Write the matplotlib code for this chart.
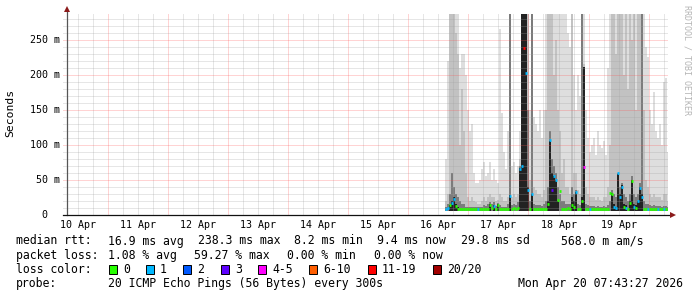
import numpy as np
import matplotlib
matplotlib.use("Agg")
import matplotlib.pyplot as plt
from matplotlib.patches import Rectangle

# ---------------- data ----------------
# time axis: days after 10 Apr 2026 00:00
view_start = 0.32184          # Fri Apr 10 07:43:27
view_end = 10.32184           # Mon Apr 20 07:43:27
sample_start = 6.611          # first consolidated sample (16 Apr ~14:40)
sample_step = 47.9 / 1440.0   # consolidated step (days)

# smoke band tops (ms) – outer (light) to inner (core)
smoke_light = [80, 220, 290, 290, 290, 290, 290, 210,
               230, 230, 200, 150, 120, 130, 60, 45,
               45, 50, 65, 75, 55, 60, 75, 50,
               65, 50, 45, 265, 145, 90, 65, 120,
               290, 70, 75, 60, 70, 120, 290, 290,
               290, 290, 150, 290, 140, 130, 120, 150,
               110, 150, 290, 290, 290, 290, 290, 290,
               290, 290, 290, 290, 290, 260, 240, 290,
               200, 150, 200, 170, 290, 290, 150, 110,
               90, 100, 110, 85, 120, 100, 95, 105,
               85, 210, 290, 290, 290, 290, 290, 290,
               290, 290, 290, 290, 290, 290, 290, 290,
               290, 290, 290, 290, 240, 225, 150, 130,
               175, 120, 110, 130, 100, 190, 195, 90]
smoke_mid = [20, 30, 290, 290, 290, 260, 230, 100,
             180, 120, 60, 25, 20, 25, 20, 18,
             15, 15, 20, 25, 20, 25, 30, 25,
             25, 20, 22, 30, 25, 20, 20, 25,
             290, 25, 30, 25, 30, 80, 290, 290,
             290, 290, 50, 290, 40, 35, 30, 30,
             25, 35, 150, 290, 290, 290, 200, 250,
             150, 120, 60, 80, 40, 40, 30, 290,
             60, 60, 35, 30, 290, 215, 40, 30,
             25, 25, 25, 22, 25, 22, 20, 25,
             25, 40, 100, 290, 290, 230, 290, 290,
             290, 200, 290, 180, 290, 250, 290, 150,
             290, 290, 290, 150, 50, 40, 30, 25,
             30, 25, 25, 25, 22, 30, 30, 20]
smoke_dark = [12, 15, 30, 60, 40, 30, 25, 20,
              15, 15, 12, 12, 12, 12, 12, 11,
              11, 11, 12, 14, 13, 15, 18, 15,
              18, 13, 17, 14, 12, 12, 12, 15,
              290, 14, 15, 14, 18, 70, 290, 290,
              290, 150, 20, 290, 15, 14, 14, 14,
              13, 15, 20, 40, 120, 80, 70, 60,
              40, 30, 20, 20, 15, 15, 15, 40,
              30, 35, 15, 14, 290, 211, 15, 14,
              13, 13, 13, 12, 13, 12, 12, 13,
              12, 14, 20, 35, 30, 25, 60, 40,
              45, 30, 25, 20, 30, 55, 30, 25,
              30, 45, 290, 20, 15, 15, 14, 13,
              14, 13, 13, 13, 12, 13, 13, 12]
smoke_core = [0, 0, 14, 20, 25, 15, 12, 0,
              0, 0, 0, 0, 0, 0, 0, 0,
              0, 0, 0, 0, 0, 0, 15, 0,
              14, 0, 15, 0, 0, 0, 0, 0,
              28, 0, 0, 0, 0, 67, 290, 290,
              290, 40, 0, 30, 0, 0, 0, 0,
              0, 0, 0, 20, 105, 60, 55, 50,
              20, 0, 0, 0, 0, 0, 0, 25,
              20, 33, 0, 0, 25, 211, 0, 0,
              0, 0, 0, 0, 0, 0, 0, 0,
              0, 0, 0, 31, 15, 12, 58, 30,
              43, 15, 14, 0, 20, 50, 15, 14,
              20, 40, 30, 0, 0, 0, 0, 0,
              0, 0, 0, 0, 0, 0, 0, 0]
median_ms = [9, 10, 14, 17, 23, 13, 9, 9,
             8, 8, 9, 8, 8, 9, 8, 8,
             8, 8, 8, 9, 9, 9, 14, 10,
             13, 9, 14, 9, 8, 8, 9, 9,
             27, 9, 10, 9, 10, 65, 70, 238,
             203, 35, 8, 30, 8, 9, 8, 9,
             8, 9, 9, 15, 107, 36, 55, 50,
             21, 34, 9, 9, 9, 10, 9, 14,
             12, 33, 9, 9, 20, 69, 9, 8,
             8, 8, 8, 8, 9, 8, 8, 9,
             9, 9, 31, 30, 12, 10, 60, 25,
             40, 12, 10, 9, 17, 49, 12, 10,
             20, 38, 26, 9, 9, 9, 9, 8,
             9, 9, 8, 9, 8, 9, 9, 8]
loss_class = [1, 1, 0, 1, 1, 0, 0, 0,
              0, 0, 0, 0, 0, 0, 0, 0,
              1, 0, 0, 0, 0, 0, 0, 0,
              1, 0, 0, 0, 0, 0, 0, 0,
              1, 0, 0, 0, 0, 1, 1, 6,
              1, 1, 0, 1, 0, 0, 0, 0,
              0, 0, 0, 0, 1, 3, 1, 1,
              0, 0, 0, 0, 0, 0, 0, 0,
              0, 1, 0, 0, 0, 4, 0, 0,
              1, 0, 0, 0, 0, 0, 0, 0,
              0, 0, 0, 0, 1, 1, 1, 1,
              1, 0, 1, 0, 0, 0, 1, 0,
              1, 1, 1, 0, 0, 1, 0, 0,
              0, 0, 1, 0, 0, 1, 0, 0]
smoke_floor = 6.0

loss_labels = ["0", "1", "2", "3", "4-5", "6-10", "11-19", "20/20"]
loss_colors = ["#26ff00", "#00b8ff", "#0059ff", "#5e00ff",
               "#ff00fe", "#ff5e00", "#ff0000", "#a10000"]

day_labels = ["10 Apr", "11 Apr", "12 Apr", "13 Apr", "14 Apr",
              "15 Apr", "16 Apr", "17 Apr", "18 Apr", "19 Apr"]
ytick_vals = [0, 50, 100, 150, 200, 250]
ytick_labels = ["0", "50 m", "100 m", "150 m", "200 m", "250 m"]

rtt_items = ["16.9 ms avg", "238.3 ms max", "8.2 ms min",
             "9.4 ms now", "29.8 ms sd", "568.0 m am/s"]
loss_items = ["1.08 % avg", "59.27 % max", "0.00 % min", "0.00 % now"]
probe_text = "20 ICMP Echo Pings (56 Bytes) every 300s"
stamp_text = "Mon Apr 20 07:43:27 2026"

# ---------------- figure ----------------
W, H = 697, 297
MONO = "DejaVu Sans Mono"
fig = plt.figure(figsize=(W / 100, H / 100), dpi=100)
fig.patch.set_facecolor("white")
ax = fig.add_axes([67 / W, 1 - 215 / H, 601 / W, 201 / H])
ax.set_facecolor("white")
ymax = 287.0
ax.set_xlim(view_start, view_end)
ax.set_ylim(0, ymax)

t = sample_start + sample_step * np.arange(len(median_ms))
layers = [(smoke_light, "#dedede"), (smoke_mid, "#c2c2c2"),
          (smoke_dark, "#7c7c7c"), (smoke_core, "#222222")]
for z, (vals, col) in enumerate(layers):
    v = np.array(vals, dtype=float)
    m = v > 0
    ax.bar(t[m], v[m] - smoke_floor, bottom=smoke_floor, width=sample_step,
           align="edge", color=col, linewidth=0, zorder=1 + z * 0.1)

# grid (dotted, drawn over the smoke)
gkw = dict(lw=0.72, linestyle=(0, (1, 1)), zorder=3)
MIN_C, MIN_A = "#a0a0a0", 0.52
MAJ_C, MAJ_A = "#ff5050", 0.5
for d in np.arange(0, 11, 0.25):
    if view_start < d < view_end:
        if abs(d - round(d)) < 1e-6:
            ax.axvline(d, color=MAJ_C, alpha=MAJ_A, **gkw)
        else:
            ax.axvline(d, color=MIN_C, alpha=MIN_A, **gkw)
for v in range(10, 290, 10):
    if v % 50 == 0:
        ax.axhline(v, color=MAJ_C, alpha=MAJ_A, **gkw)
    else:
        ax.axhline(v, color=MIN_C, alpha=MIN_A, **gkw)

# median line coloured by loss
for ti, mv, lc in zip(t, median_ms, loss_class):
    ax.hlines(mv, ti, ti + sample_step, colors=loss_colors[lc], lw=2.0, zorder=6)

# axes decorations
for s in ax.spines.values():
    s.set_visible(False)
ax.set_xticks([])
ax.set_yticks([])
ax.plot([0, 0], [0, 1.02], transform=ax.transAxes, color="#555555", lw=0.9,
        clip_on=False, zorder=7)
ax.plot([-0.007, 1.004], [0, 0], transform=ax.transAxes, color="#111111", lw=0.9,
        clip_on=False, zorder=7)
ax.plot([0], [1.027], transform=ax.transAxes, marker="^", ms=4.2, color="#8b1a1a",
        clip_on=False, zorder=8, markeredgewidth=0)
ax.plot([1.0075], [0], transform=ax.transAxes, marker=">", ms=4.2, color="#8b1a1a",
        clip_on=False, zorder=8, markeredgewidth=0)
# small tick stubs left of the y axis
for v in range(10, 290, 10):
    col, a = (MAJ_C, MAJ_A) if v % 50 == 0 else (MIN_C, MIN_A)
    ax.plot([view_start - 4 * 10 / 601, view_start], [v, v], color=col, alpha=a,
            lw=0.72, linestyle=(0, (1, 1)), clip_on=False, zorder=2)
for i, lab in enumerate(day_labels):
    ax.annotate(lab, xy=(i + 0.5, 0), xycoords=("data", "data"),
                xytext=(0, -9.5), textcoords="offset pixels",
                ha="center", va="center", family=MONO, size=7.2, color="#000000")
for v, lab in zip(ytick_vals, ytick_labels):
    off = -20 if v == 0 else -7
    ax.annotate(lab, xy=(0, v), xycoords=("axes fraction", "data"),
                xytext=(off, 0), textcoords="offset pixels",
                ha="right", va="center", family=MONO, size=7.2, color="#000000")

fig.text(10 / W, 1 - 113 / H, "Seconds", rotation=90, ha="center", va="center",
         family=MONO, size=8.2)
fig.text(687 / W, 1 - 60 / H, "RRDTOOL / TOBI OETIKER", rotation=270,
         ha="center", va="center", family=MONO, size=6, color="#b5b5b5")


def ftext(x, y, s, **kw):
    fig.text(x / W, 1 - y / H, s, ha=kw.pop("ha", "left"), va="center",
             family=MONO, size=8.3, **kw)


y1, y2, y3, y4 = 241, 255.5, 269.5, 284
ftext(16, y1, "median rtt:")
for xx, s in zip([108, 198, 294, 377, 461, 561], rtt_items):
    ftext(xx, y1, s)
ftext(16, y2, "packet loss:")
for xx, s in zip([108, 194, 287, 374], loss_items):
    ftext(xx, y2, s)
ftext(16, y3, "loss color:")
box_x = [109, 146, 183, 221, 258, 309, 368, 433]
for bx, lab, col in zip(box_x, loss_labels, loss_colors):
    fig.patches.append(Rectangle(((bx) / W, 1 - (y3 + 4.5) / H), 8 / W, 9 / H,
                                 transform=fig.transFigure, facecolor=col,
                                 edgecolor="#000000", lw=0.7))
    ftext(bx + 14, y3, lab)
ftext(16, y4, "probe:")
ftext(108, y4, probe_text)
ftext(683, y4, stamp_text, ha="right")

fig.savefig("out.png", dpi=100, facecolor="white")
